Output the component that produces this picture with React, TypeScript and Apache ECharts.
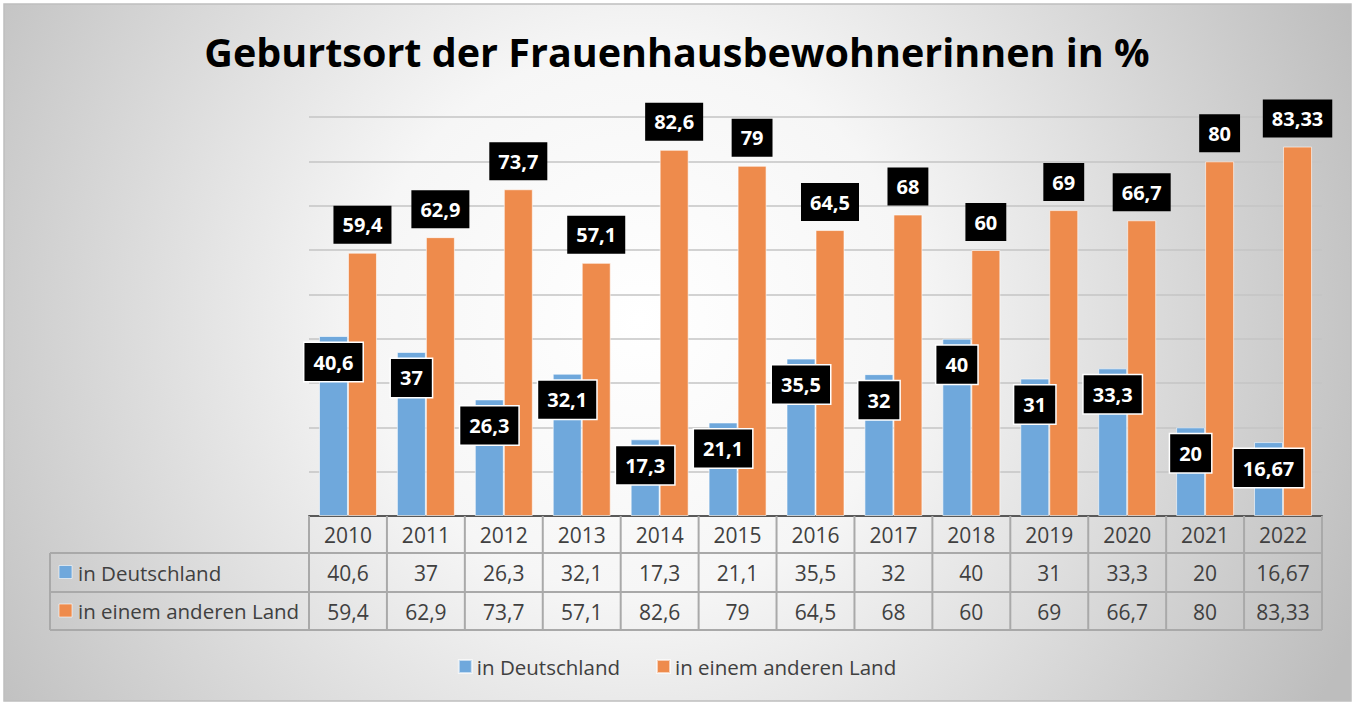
import React, { useEffect, useRef } from "react";
import * as echarts from "echarts";

const years = ["2010","2011","2012","2013","2014","2015","2016","2017","2018","2019","2020","2021","2022"];
const inDeutschland = [40.6, 37, 26.3, 32.1, 17.3, 21.1, 35.5, 32, 40, 31, 33.3, 20, 16.67];
const inAnderemLand = [59.4, 62.9, 73.7, 57.1, 82.6, 79, 64.5, 68, 60, 69, 66.7, 80, 83.33];
const seriesNames = ["in Deutschland", "in einem anderen Land"];
const colors = ["#6FA8DC", "#EE8B4C"];
const titleText = "Geburtsort der Frauenhausbewohnerinnen in %";

const FONT = "'Open Sans', sans-serif";
const fmt = (v: number) => String(v).replace(".", ",");

export default function App() {
  const ref = useRef<HTMLDivElement>(null);
  useEffect(() => {
    const chart = echarts.init(ref.current!, undefined, { renderer: "svg" });
    const W = 1354, H = 704;
    const gl = 309, gr = 1322, gt = 117, gb = 516;
    const colW = (gr - gl) / years.length;
    const rowLines = [553, 592, 630];
    const lineColor = "#a9a9a9";

    const graphics: any[] = [
      {
        type: "rect", z: -100, silent: true,
        shape: { x: 4, y: 4, width: W - 7, height: H - 7 },
        style: {
          fill: { type: "radial", x: 640, y: 320, r: 780, global: true,
            colorStops: [ { offset: 0, color: "#ffffff" }, { offset: 0.35, color: "#f6f6f6" }, { offset: 1, color: "#bdbdbd" } ] },
          stroke: "#bfbfbf", lineWidth: 1.5,
        },
      },
    ];
    for (let k = 0; k <= years.length; k++) {
      const x = gl + k * colW;
      graphics.push({ type: "line", z: 5, shape: { x1: x, y1: gb, x2: x, y2: rowLines[2] }, style: { stroke: lineColor, lineWidth: 2 } });
    }
    graphics.push({ type: "line", z: 5, shape: { x1: 50, y1: rowLines[0], x2: 50, y2: rowLines[2] }, style: { stroke: lineColor, lineWidth: 2 } });
    rowLines.forEach((y) => {
      graphics.push({ type: "line", z: 5, shape: { x1: 50, y1: y, x2: gr, y2: y }, style: { stroke: lineColor, lineWidth: 2 } });
    });
    seriesNames.forEach((n, i) => {
      const cy = (rowLines[i] + rowLines[i + 1]) / 2;
      graphics.push({ type: "rect", z: 5, shape: { x: 59, y: cy - 7, width: 13, height: 13 }, style: { fill: colors[i], stroke: "rgba(255,255,255,0.6)", lineWidth: 1 } });
      graphics.push({ type: "text", z: 5, x: 78, y: cy, style: { text: n, fill: "#404040", font: `20.5px ${FONT}`, textVerticalAlign: "middle", textAlign: "left" } });
    });

    const labelBase = {
      show: true,
      formatter: (p: any) => fmt(p.value),
      color: "#fff",
      backgroundColor: "#000",
      fontFamily: FONT,
      fontWeight: "bold",
      fontSize: 20,
      lineHeight: 24,
      padding: [7, 9],
    };

    chart.setOption({
      animation: false,
      textStyle: { fontFamily: FONT },
      title: {
        text: titleText, left: "center", top: 27,
        textStyle: { fontFamily: FONT, fontWeight: "bold", fontSize: 39.5, color: "#000" },
      },
      legend: {
        data: seriesNames, bottom: 22, left: "center", icon: "rect",
        itemWidth: 13, itemHeight: 13, itemGap: 36,
        textStyle: { fontFamily: FONT, fontSize: 20.5, color: "#404040" },
      },
      grid: { left: gl, right: W - gr, top: gt, bottom: H - gb },
      xAxis: {
        type: "category", data: years,
        axisLine: { lineStyle: { color: "#595959", width: 2 } },
        axisTick: { show: false },
        axisLabel: {
          interval: 0, margin: 0,
          formatter: (v: string, i: number) => `{v|${v}}\n{v|${fmt(inDeutschland[i])}}\n{v|${fmt(inAnderemLand[i])}}`,
          rich: { v: { fontFamily: FONT, fontSize: 21, color: "#404040", lineHeight: 38.3 } },
        },
      },
      yAxis: {
        type: "value", min: 0, max: 90, interval: 10,
        axisLabel: { show: false }, axisLine: { show: false }, axisTick: { show: false },
        splitLine: { lineStyle: { color: "#c4c4c4", width: 1.5 } },
      },
      series: [
        {
          name: seriesNames[0], type: "bar", data: inDeutschland, barWidth: 29, barGap: "0%",
          itemStyle: { color: colors[0], borderColor: "rgba(255,255,255,0.6)", borderWidth: 1 },
          label: { ...labelBase, position: "insideTop", distance: 7, borderColor: "#fff", borderWidth: 1.5 },
        },
        {
          name: seriesNames[1], type: "bar", data: inAnderemLand, barWidth: 29,
          itemStyle: { color: colors[1], borderColor: "rgba(255,255,255,0.6)", borderWidth: 1 },
          label: { ...labelBase, position: "top", distance: 9 },
        },
      ],
      graphic: graphics,
    });
    return () => chart.dispose();
  }, []);
  return <div ref={ref} style={{ position: "absolute", left: 0, top: 0, width: 1354, height: 704 }} />;
}
